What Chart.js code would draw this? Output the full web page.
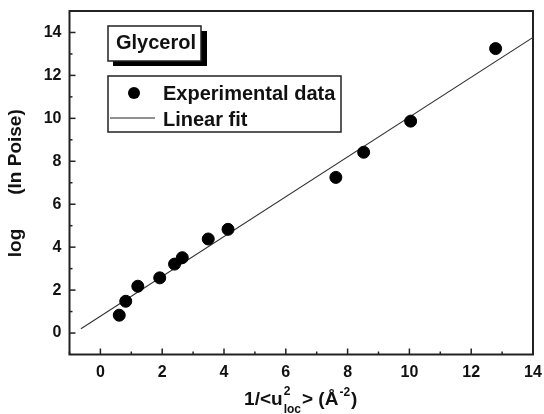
<!DOCTYPE html>
<html>
<head>
<meta charset="utf-8">
<script src="https://cdn.jsdelivr.net/npm/chart.js@4.4.1/dist/chart.umd.min.js"></script>
<style>
  html, body { margin: 0; padding: 0; background: #fff; }
  #wrap { width: 544px; height: 414px; }
</style>
</head>
<body>
<div id="wrap"><canvas id="c"></canvas></div>
<script>
// values
const expX = [0.61, 0.82, 1.21, 1.92, 2.40, 2.65, 3.49, 4.13, 7.62, 8.52, 10.04, 12.79];
const expY = [0.83, 1.48, 2.18, 2.57, 3.21, 3.51, 4.38, 4.83, 7.25, 8.42, 9.87, 13.25];
const fitX = [-0.63, 14];
const fitY = [0.20, 13.77];
const xTicks = [0, 2, 4, 6, 8, 10, 12, 14];
const yTicks = [0, 2, 4, 6, 8, 10, 12, 14];
const xMinor = [-1, 1, 3, 5, 7, 9, 11, 13];
const yMinor = [1, 3, 5, 7, 9, 11, 13];
const seriesNames = ['Experimental data', 'Linear fit'];
const sampleName = 'Glycerol';

const INK = '#111';
const FONT = '"Liberation Sans", Arial, sans-serif';

function seg(ctx, x1, y1, x2, y2) {
  ctx.beginPath(); ctx.moveTo(x1, y1); ctx.lineTo(x2, y2); ctx.stroke();
}

// frame and inward tick marks
const framePlugin = {
  id: 'frame',
  beforeDatasetsDraw(chart) {
    const ctx = chart.ctx, ca = chart.chartArea;
    const xs = chart.scales.x, ys = chart.scales.y;
    ctx.save();
    ctx.strokeStyle = '#222';
    ctx.lineWidth = 1.5;
    xTicks.forEach(v => { const p = xs.getPixelForValue(v); seg(ctx, p, ca.bottom, p, ca.bottom - 6); });
    xMinor.forEach(v => { const p = xs.getPixelForValue(v); seg(ctx, p, ca.bottom, p, ca.bottom - 3); });
    yTicks.forEach(v => { const p = ys.getPixelForValue(v); seg(ctx, ca.left, p, ca.left + 6, p); });
    yMinor.forEach(v => { const p = ys.getPixelForValue(v); seg(ctx, ca.left, p, ca.left + 3, p); });
    ctx.lineWidth = 2;
    ctx.strokeRect(ca.left, ca.top, ca.right - ca.left, ca.bottom - ca.top);
    ctx.restore();
  }
};

// titles, sample label and legend box
const notesPlugin = {
  id: 'notes',
  afterDraw(chart) {
    const ctx = chart.ctx, ca = chart.chartArea;
    ctx.save();
    ctx.fillStyle = INK;
    ctx.strokeStyle = '#222';

    // x axis title: 1/<u^2_loc> (Å^-2)
    const big = 'bold 19px ' + FONT, small = 'bold 12px ' + FONT;
    const parts = [
      { t: '1/<u', f: big, dy: 0 },
      { t: '2', f: small, dy: -10, stack: 'loc' },
      { t: '> (Å', f: big, dy: 0 },
      { t: '-2', f: small, dy: -9 },
      { t: ')', f: big, dy: 0 }
    ];
    let total = 0;
    parts.forEach(p => {
      ctx.font = p.f;
      let w = ctx.measureText(p.t).width;
      if (p.stack) w = Math.max(w, ctx.measureText(p.stack).width);
      p.w = w + 1;
      total += p.w;
    });
    let x = (ca.left + ca.right) / 2 - total / 2;
    const base = 405;
    ctx.textBaseline = 'alphabetic';
    ctx.textAlign = 'left';
    parts.forEach(p => {
      ctx.font = p.f;
      ctx.fillText(p.t, x, base + p.dy);
      if (p.stack) ctx.fillText(p.stack, x, base + 8);
      x += p.w;
    });

    // y axis title
    ctx.save();
    ctx.translate(16, 0);
    ctx.rotate(-Math.PI / 2);
    ctx.font = 'bold 19px ' + FONT;
    ctx.textAlign = 'center';
    ctx.textBaseline = 'middle';
    ctx.fillText('log', -243, 0);
    ctx.fillText('(In Poise)', -152, 0);
    ctx.restore();

    // sample label with drop shadow
    ctx.fillStyle = '#000';
    ctx.fillRect(113, 31, 94, 35);
    ctx.fillStyle = '#fff';
    ctx.fillRect(108, 26, 93, 35);
    ctx.lineWidth = 1.5;
    ctx.strokeRect(108, 26, 93, 35);
    ctx.fillStyle = INK;
    ctx.font = 'bold 20px ' + FONT;
    ctx.textBaseline = 'middle';
    ctx.fillText(sampleName, 116, 43);

    // legend
    ctx.fillStyle = '#fff';
    ctx.fillRect(108, 76, 233, 56);
    ctx.strokeRect(108, 76, 233, 56);
    ctx.fillStyle = '#000';
    ctx.beginPath(); ctx.arc(134, 93, 6, 0, Math.PI * 2); ctx.fill();
    ctx.lineWidth = 1.2;
    seg(ctx, 110, 118, 155, 118);
    ctx.fillStyle = INK;
    ctx.font = 'bold 20px ' + FONT;
    ctx.fillText(seriesNames[0], 163, 94);
    ctx.fillText(seriesNames[1], 163, 120);
    ctx.restore();
  }
};

const tickFont = { family: FONT, size: 16, weight: 'bold' };

new Chart(document.getElementById('c'), {
  type: 'scatter',
  data: {
    datasets: [
      {
        label: seriesNames[0],
        data: expX.map((v, i) => ({ x: v, y: expY[i] })),
        backgroundColor: '#000',
        borderColor: '#000',
        pointRadius: 6,
        pointHoverRadius: 6
      },
      {
        label: seriesNames[1],
        type: 'line',
        data: fitX.map((v, i) => ({ x: v, y: fitY[i] })),
        borderColor: '#333',
        borderWidth: 1.1,
        pointRadius: 0,
        fill: false
      }
    ]
  },
  options: {
    responsive: true,
    maintainAspectRatio: false,
    animation: false,
    devicePixelRatio: 1,
    layout: { padding: { top: 11, right: 11, left: 0, bottom: 0 } },
    plugins: { legend: { display: false }, tooltip: { enabled: false } },
    scales: {
      x: {
        type: 'linear',
        min: -1, max: 14,
        afterBuildTicks: s => { s.ticks = xTicks.map(v => ({ value: v })); },
        afterFit: s => { s.height = 59.5; s.paddingLeft = 0; s.paddingRight = 0; },
        grid: { display: false, drawTicks: false },
        border: { display: false },
        ticks: { font: tickFont, color: INK, padding: 8, maxRotation: 0, autoSkip: false }
      },
      y: {
        type: 'linear',
        min: -1, max: 15,
        afterBuildTicks: s => { s.ticks = yTicks.map(v => ({ value: v })); },
        afterFit: s => { s.width = 69.5; s.paddingTop = 0; s.paddingBottom = 0; },
        grid: { display: false, drawTicks: false },
        border: { display: false },
        ticks: { font: tickFont, color: INK, padding: 8, autoSkip: false }
      }
    }
  },
  plugins: [framePlugin, notesPlugin]
});
</script>
</body>
</html>
